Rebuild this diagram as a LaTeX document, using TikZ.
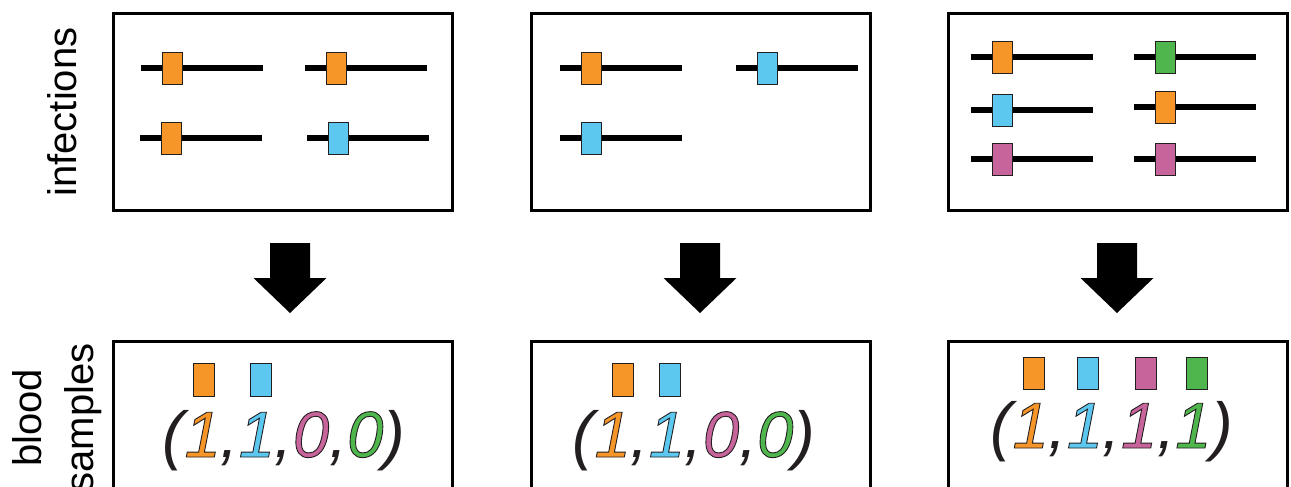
\documentclass[tikz,border=0pt]{standalone}
\usepackage{fontspec}
\setmainfont{Liberation Sans}
\definecolor{corange}{RGB}{247,150,40}
\definecolor{ccyan}{RGB}{92,200,240}
\definecolor{cpink}{RGB}{198,100,155}
\definecolor{cgreen}{RGB}{78,182,76}
\definecolor{cdark}{RGB}{35,31,32}
\newcommand{\infbar}[4]{%
  \draw[genebar] (#1,#2) -- ++(122,0);
  \node[strain,fill=#3] (#4) at (#1+31,#2) {};}
\newcommand{\odig}[2]{\textcolor{#1}{\special{pdf:literal direct 0.137 0.122 0.125 RG 0.9 w 2 Tr}#2\special{pdf:literal direct 0 Tr}}}
\begin{document}
\begin{tikzpicture}[x=1pt,y=-1pt,
  panel/.style={draw=black,line width=3pt,minimum width=339pt,minimum height=197pt,inner sep=0pt,anchor=north west,rectangle},
  genebar/.style={line width=6pt,black},
  strain/.style={rectangle,draw=cdark,line width=0.9pt,minimum width=20pt,minimum height=32pt,inner sep=0pt},
  marker/.style={rectangle,draw=cdark,line width=0.9pt,minimum width=21pt,minimum height=33pt,inner sep=0pt,anchor=north west},
  vec/.style={anchor=base,inner sep=0pt,text=cdark,font=\fontsize{65}{70}\selectfont\itshape},
  rowlabel/.style={inner sep=0pt,rotate=90,align=center,text=black,font=\fontsize{40}{52}\selectfont},
  bigarrow/.style={fill=black}]
\clip (0,0) rectangle (1291,487);
\fill[white] (0,0) rectangle (1291,487);
% labels
\node[rowlabel] (linf) at (62,112) {infections};
\node[rowlabel] (lblood) at (57,418) {blood\\samples};
% top panels
\node[panel] (p1) at (112,12) {};
\node[panel] (p2) at (530,12) {};
\node[panel] (p3) at (947,12) {};
% bottom panels
\node[panel,minimum height=260pt] (q1) at (112,340) {};
\node[panel,minimum height=260pt] (q2) at (530,340) {};
\node[panel,minimum height=260pt] (q3) at (947,340) {};
% panel 1 infections
\infbar{141}{68}{corange}{s11}
\infbar{305}{68}{corange}{s12}
\infbar{140}{138}{corange}{s13}
\infbar{307}{138}{ccyan}{s14}
% panel 2 infections
\infbar{560}{68}{corange}{s21}
\infbar{736}{68}{ccyan}{s22}
\infbar{560}{138}{ccyan}{s23}
% panel 3 infections
\infbar{971}{57}{corange}{s31}
\infbar{971}{110}{ccyan}{s32}
\infbar{971}{159}{cpink}{s33}
\infbar{1134}{57}{cgreen}{s34}
\infbar{1134}{107}{corange}{s35}
\infbar{1134}{159}{cpink}{s36}
% arrows
\coordinate (a1) at (290,243);
\coordinate (a2) at (700,243);
\coordinate (a3) at (1117,243);
\foreach \a in {a1,a2,a3}{
  \fill[bigarrow] (\a) ++(-20,0) -- ++(40,0) -- ++(0,35) -- ++(16.5,0) -- ++(-36.5,35) -- ++(-36.5,-35) -- ++(16.5,0) -- cycle;
}
% blood samples markers
\node[marker,fill=corange] (m11) at (193,363) {};
\node[marker,fill=ccyan] (m12) at (250,363) {};
\node[marker,fill=corange] (m21) at (612,363) {};
\node[marker,fill=ccyan] (m22) at (659,363) {};
\node[marker,fill=corange,minimum height=32pt] (m31) at (1023,357) {};
\node[marker,fill=ccyan,minimum height=32pt] (m32) at (1077,357) {};
\node[marker,fill=cpink,minimum height=32pt] (m33) at (1135,357) {};
\node[marker,fill=cgreen,minimum height=32pt] (m34) at (1186,357) {};
% vectors
\node[vec] (v1) at (284,457) {(\odig{corange}{1},\odig{ccyan}{1},\odig{cpink}{0},\odig{cgreen}{0})};
\node[vec] (v2) at (694,457) {(\odig{corange}{1},\odig{ccyan}{1},\odig{cpink}{0},\odig{cgreen}{0})};
\node[vec] (v3) at (1112,448) {(\odig{corange}{1},\odig{ccyan}{1},\odig{cpink}{1},\odig{cgreen}{1})};
\end{tikzpicture}
\end{document}
